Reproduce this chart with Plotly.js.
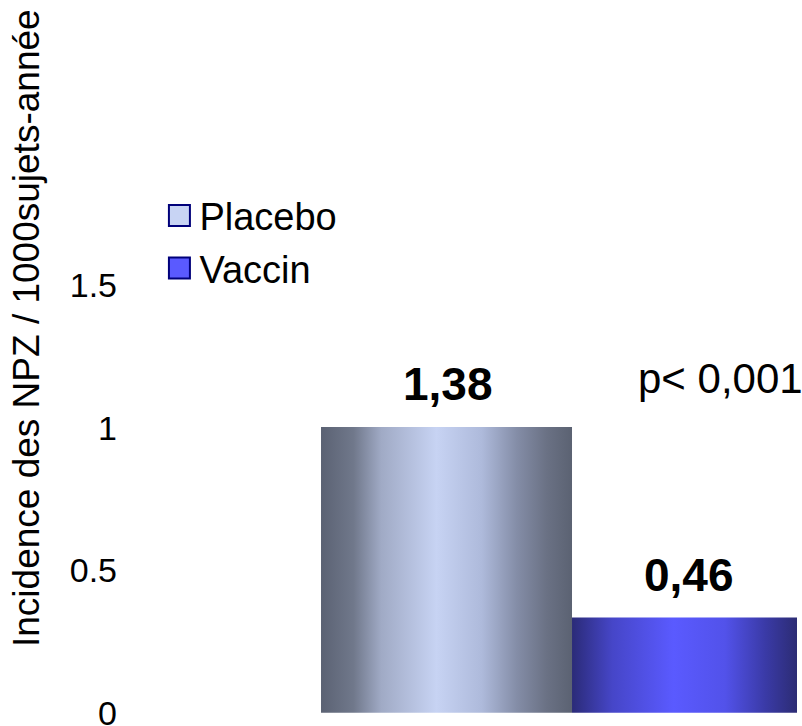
<!DOCTYPE html>
<html>
<head>
<meta charset="utf-8">
<script src="https://cdn.plot.ly/plotly-3.0.1.min.js"></script>
<style>
  html, body { margin: 0; padding: 0; background: #ffffff; }
  #chart { width: 802px; height: 726px; }
</style>
</head>
<body>
<div id="chart"></div>
<script>
// Incidence per 1000 subject-years, by group
const groups = ['Placebo', 'Vaccin'];
const incidence = [1.38, 0.46];
const pValueText = 'p< 0,001';

// Y tick labels and the factor that maps them onto the data scale
const tickLabels = [0, 0.5, 1, 1.5];
const tickScale = 1.377;

const FONT = '"Liberation Sans", Arial, sans-serif';
const legendColors = ['#c8d4f4', '#5a5aff'];

// Horizontal "cylinder" shading for each bar
const gradients = [
  [[0, '#5b6273'], [0.13, '#70788b'], [0.24, '#a0aac5'], [0.46, '#c7d3f3'],
   [0.64, '#aebadb'], [0.78, '#848da7'], [0.9, '#6a7184'], [1, '#5b6272']],
  [[0, '#2b2b78'], [0.18, '#4646c8'], [0.45, '#5a5aff'], [0.68, '#5252ea'],
   [0.86, '#3a3aa6'], [1, '#2c2c74']]
];

const xRange = [-1.3088, 1.3964];
const yRange = [-0.02, 3.393];

const fmt = v => v.toFixed(2).replace('.', ',');

const traces = groups.map((g, i) => ({
  type: 'bar',
  name: g,
  x: [i],
  y: [incidence[i]],
  width: 1,
  marker: { color: legendColors[i], line: { width: 0 } },
  hoverinfo: 'skip'
}));

// Value labels centred over the visible part of each bar
const valueNotes = groups.map((g, i) => {
  const left = i - 0.5;
  const right = Math.min(i + 0.5, xRange[1]);
  return {
    x: (left + right) / 2, y: incidence[i],
    xref: 'x', yref: 'y',
    text: '<b>' + fmt(incidence[i]) + '</b>',
    showarrow: false, xanchor: 'center', yanchor: 'bottom', yshift: 15,
    xshift: i === 0 ? 1 : 4,
    font: { family: FONT, size: 46, color: '#000000' }
  };
});

const annotations = valueNotes.concat([
  {
    x: 0.7629, y: 0.4788, xref: 'paper', yref: 'paper',
    text: pValueText, showarrow: false, xanchor: 'left', yanchor: 'middle',
    font: { family: FONT, size: 42, color: '#000000' }
  },
  {
    x: -0.1355, y: 0.5502, xref: 'paper', yref: 'paper',
    text: 'Incidence des NPZ / 1000sujets-année', textangle: -90,
    showarrow: false, xanchor: 'center', yanchor: 'middle',
    font: { family: FONT, size: 37, color: '#000000' }
  }
]);

const layout = {
  width: 802, height: 726,
  margin: { l: 118, r: 5, t: 10, b: 9 },
  paper_bgcolor: '#ffffff', plot_bgcolor: '#ffffff',
  barmode: 'overlay',
  showlegend: true,
  legend: {
    x: 0.061, y: 0.7535, xanchor: 'left', yanchor: 'top',
    bgcolor: 'rgba(0,0,0,0)', borderwidth: 0,
    font: { family: FONT, size: 38, color: '#000000' }
  },
  xaxis: {
    range: xRange, showgrid: false, zeroline: false, showline: false,
    showticklabels: false, ticks: ''
  },
  yaxis: {
    range: yRange, showgrid: false, zeroline: false, showline: false,
    ticks: '', tickmode: 'array', ticklabeloverflow: 'allow',
    tickvals: tickLabels.map(v => v * tickScale),
    ticktext: tickLabels.map(v => String(v)),
    tickfont: { family: FONT, size: 34, color: '#000000' }
  },
  annotations: annotations
};

function shadeBars(gd) {
  const svg = gd.querySelector('svg.main-svg');
  const ns = 'http://www.w3.org/2000/svg';
  let defs = svg.querySelector('defs');
  if (!defs) { defs = document.createElementNS(ns, 'defs'); svg.insertBefore(defs, svg.firstChild); }
  const plotW = gd._fullLayout._size.w;

  const barTraces = gd.querySelectorAll('.barlayer .trace');
  barTraces.forEach((tr, i) => {
    const path = tr.querySelector('.point path');
    if (!path) return;
    const bb = path.getBBox();
    const visibleFrac = Math.min(1, (plotW - bb.x) / bb.width);
    const grad = document.createElementNS(ns, 'linearGradient');
    grad.setAttribute('id', 'barShade' + i);
    grad.setAttribute('x1', '0'); grad.setAttribute('y1', '0');
    grad.setAttribute('x2', String(visibleFrac)); grad.setAttribute('y2', '0');
    gradients[i].forEach(([off, col]) => {
      const st = document.createElementNS(ns, 'stop');
      st.setAttribute('offset', String(off));
      st.setAttribute('stop-color', col);
      grad.appendChild(st);
    });
    defs.appendChild(grad);
    path.style.fill = 'url(#barShade' + i + ')';
  });

  // Larger outlined legend swatches
  gd.querySelectorAll('.legend .traces .legendpoints path').forEach(p => {
    p.setAttribute('d', 'M10.5,10.5H-10.5V-10.5H10.5Z');
    p.style.stroke = '#00007a';
    p.style.strokeWidth = '2px';
  });
}

Plotly.newPlot('chart', traces, layout, { displayModeBar: false, staticPlot: true })
  .then(shadeBars);
</script>
</body>
</html>
